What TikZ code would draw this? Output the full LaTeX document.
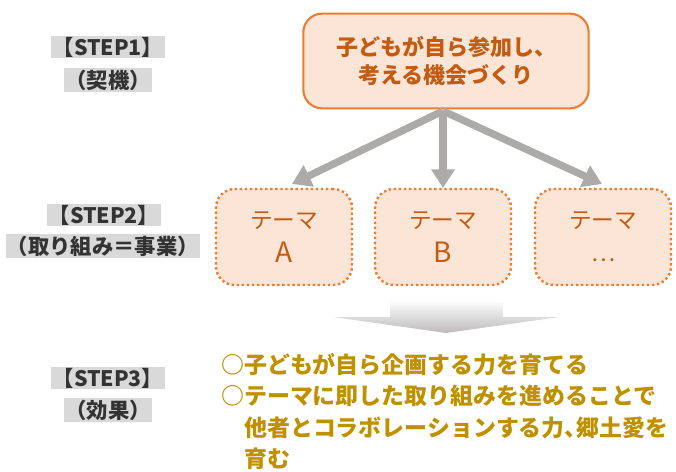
\documentclass[tikz,border=0pt]{standalone}
\usepackage{fontspec}
\setmainfont{Noto Sans CJK JP}
\usetikzlibrary{arrows.meta}

\definecolor{peach}{HTML}{FBE5D6}
\definecolor{boxline}{HTML}{ED7D31}
\definecolor{boxtext}{HTML}{C55A11}
\definecolor{stepgray}{HTML}{D9D9D9}
\definecolor{arrowgray}{HTML}{ADAAAA}
\definecolor{gold}{HTML}{BF9000}

\tikzstyle{invisible} = [outer sep=0,inner sep=0,minimum size=0]
\tikzstyle{steplabel} = [fill=stepgray,inner sep=1pt,font=\fontsize{16}{18}\selectfont\bfseries,text=black!80]
\tikzstyle{mainbox} = [draw=boxline,line width=1.6pt,fill=peach,rounded corners=14pt,text=boxtext,font=\fontsize{16.5}{21}\selectfont\bfseries,align=center,minimum width=214pt,minimum height=71pt]
\tikzstyle{themebox} = [draw=boxline,line width=1.8pt,dotted,fill=peach,rounded corners=14pt,text=boxtext,font=\fontsize{17}{25}\selectfont,align=center,minimum width=102pt,minimum height=72pt]
\tikzstyle{grayarrow} = [draw=arrowgray,line width=5.5pt,-{Triangle[width=17pt,length=14pt]}]

\begin{document}
\begin{tikzpicture}[x=0.75pt,y=-0.75pt]

\useasboundingbox (0,0) rectangle (676,472);

% STEP labels
\node[steplabel] (s1a) at (108,47) {【STEP1】};
\node[steplabel] (s1b) at (108,80) {（契機）};
\node[steplabel] (s2a) at (104,215) {【STEP2】};
\node[steplabel] (s2b) at (103,246) {（取り組み＝事業）};
\node[steplabel] (s3a) at (108,378) {【STEP3】};
\node[steplabel] (s3b) at (108,410) {（効果）};

% STEP1
\node[mainbox] (kikai) at (446,61) {子どもが自ら参加し、\\考える機会づくり};

% STEP2
\node[themebox] (themeA) at (284,237) {テーマ\\{\fontsize{21}{25}\selectfont A}};
\node[themebox] (themeB) at (443,237) {テーマ\\{\fontsize{21}{25}\selectfont B}};
\node[themebox] (themeC) at (603,237) {テーマ\\…};

\node [invisible] (v0) at (443,111) {};
\node [invisible] (v1) at (292,184) {};
\node [invisible] (v2) at (443,188) {};
\node [invisible] (v3) at (602,184) {};
\draw[grayarrow] (v0) -- (v1);
\draw[grayarrow] (v0) -- (v2);
\draw[grayarrow] (v0) -- (v3);

% big arrow
\shade[top color=white,bottom color=arrowgray!80] (390,300) -- (503,300) -- (503,317) -- (559,317)
  -- (446,333) -- (333,317) -- (390,317) -- cycle;

% STEP3
\node[anchor=north west,align=left,text=gold,inner sep=0,font=\fontsize{17.2}{23.6}\selectfont\bfseries] (kouka) at (221,353)
  {○子どもが自ら企画する力を育てる\\
   ○テーマに即した取り組みを進めることで\\
   \hspace*{1em}他者とコラボレーションする力、\kern-0.5em 郷土愛を\\
   \hspace*{1em}育む};

\end{tikzpicture}
\end{document}
